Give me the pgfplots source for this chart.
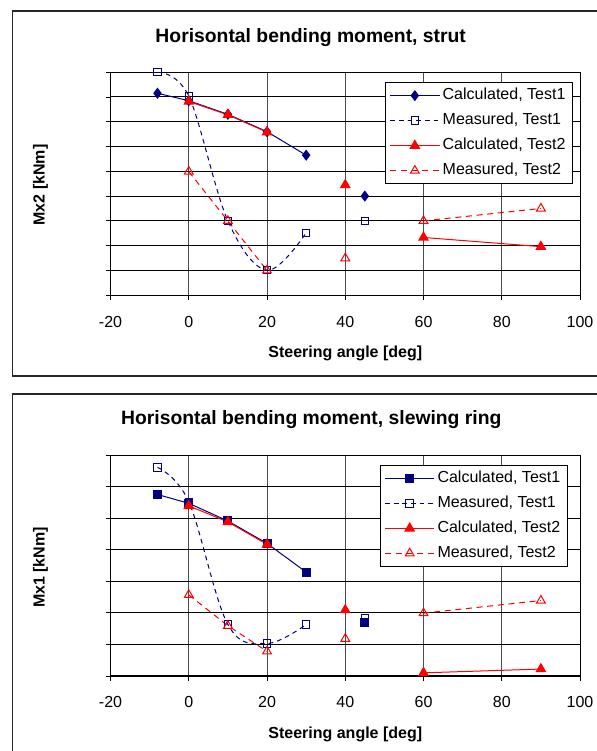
\documentclass[border=0pt]{standalone}
\usepackage{pgfplots}
\pgfplotsset{compat=1.18}
\usepackage{fontspec}
\setmainfont{Liberation Sans}
\definecolor{navy}{RGB}{0,0,128}
\definecolor{myred}{RGB}{255,0,0}

\pgfplotsset{
 mystyle/.style={
  scale only axis, width=352.1pt,
  xmin=-20, xmax=100, xtick={-20,0,20,40,60,80,100},
  ymin=0, yticklabels={},
  xtick pos=left, ytick pos=left, tick align=outside, major tick length=3.5pt,
  tick style={black, line width=0.6pt},
  axis line style={black, line width=0.75pt},
  xmajorgrids, ymajorgrids,
  x grid style={black!70, line width=0.7pt},
  y grid style={black, line width=0.75pt},
  /pgf/number format/assume math mode=true,
  ticklabel style={font=\fontsize{12}{14}\selectfont},
  xticklabel style={yshift=-8.5pt},
  legend cell align=left,
  legend style={draw=black, line width=0.6pt, font=\fontsize{12}{14}\selectfont,
    row sep=3.25pt, inner xsep=3pt, inner ysep=2pt,
    nodes={inner sep=2pt, text height=9pt, text depth=2.5pt}},
  legend image code/.code={\draw[mark repeat=2,mark phase=2,##1] plot coordinates {(0pt,0pt) (18.5pt,0pt) (37pt,0pt)};},
 },
 calcA/.style={navy, line width=0.75pt, mark=diamond*, mark size=3.6pt, mark options={solid, fill=navy}},
 calcAs/.style={navy, line width=0.75pt, mark=square*, mark size=3pt, mark options={solid, fill=navy}},
 measA/.style={navy, line width=0.75pt, dash pattern=on 3.5pt off 3pt, mark=square, mark size=2.8pt, mark options={solid}},
 calcB/.style={myred, line width=0.75pt, mark=triangle*, mark size=4pt, mark options={solid, fill=myred}},
 measB/.style={myred, line width=0.75pt, dash pattern=on 4.5pt off 3.5pt, mark=triangle, mark size=3.8pt, mark options={solid}},
}

\begin{document}
\begin{tikzpicture}
\useasboundingbox (0,0) rectangle (447.75pt,563.25pt);
\clip (0,0) rectangle (447.75pt,563.25pt);

% ---------- frames and texts (pixel coordinates, y downward) ----------
\begin{scope}[x=0.75pt, y=-0.75pt, shift={(0pt,563.25pt)}]
 \draw[black!85, line width=1pt] (600,11) -- (12.6,11) -- (12.6,376) -- (600,376);
 \draw[black!85, line width=1pt] (600,394) -- (12.6,394) -- (12.6,760);
 \node[anchor=base, font=\bfseries\fontsize{14.5}{17}\selectfont, inner sep=0pt] at (310.7,42.7) {Horisontal bending moment, strut};
 \node[anchor=base, font=\bfseries\fontsize{14.5}{17}\selectfont, inner sep=0pt] at (311.3,425) {Horisontal bending moment, slewing ring};
 \node[anchor=base, font=\bfseries\fontsize{12}{14}\selectfont, inner sep=0pt] at (345.3,357.3) {Steering angle [deg]};
 \node[anchor=base, font=\bfseries\fontsize{12}{14}\selectfont, inner sep=0pt] at (345.3,738.3) {Steering angle [deg]};
 \node[anchor=base, rotate=90, font=\bfseries\fontsize{12}{14}\selectfont, inner sep=0pt] at (44.5,185) {Mx2 [kNm]};
 \node[anchor=base, rotate=90, font=\bfseries\fontsize{12}{14}\selectfont, inner sep=0pt] at (44.5,567.5) {Mx1 [kNm]};
\end{scope}

% ---------- top chart ----------
\begin{axis}[mystyle, at={(82.9pt,341.85pt)}, anchor=south west,
  height=167.25pt, ymax=9, ytick={0,1,...,9},
  legend style={at={(0.984,0.955)}, anchor=north east}]
 \addplot[calcA] coordinates {(-8,8.15) (0,7.85) (10,7.3) (20,6.6) (30,5.65)};
 \addlegendentry{Calculated, Test1}
 \addplot[measA, smooth, tension=0.6] coordinates {(-8,9.0) (0,8.03) (10,3.0) (20,1.01) (30,2.52)};
 \addlegendentry{Measured, Test1}
 \addplot[calcB] coordinates {(0,7.82) (10,7.28) (20,6.58)};
 \addlegendentry{Calculated, Test2}
 \addplot[measB] coordinates {(0,4.99) (10,3.0) (20,1.0)};
 \addlegendentry{Measured, Test2}
 \addplot[calcA, forget plot] coordinates {(45,4.0)};
 \addplot[measA, forget plot] coordinates {(45,3.0)};
 \addplot[calcB, forget plot] coordinates {(40,4.45)};
 \addplot[calcB, forget plot] coordinates {(60,2.33) (90,1.96)};
 \addplot[measB, forget plot] coordinates {(40,1.49)};
 \addplot[measB, forget plot] coordinates {(60,3.0) (90,3.5)};
\end{axis}

% ---------- bottom chart ----------
\begin{axis}[mystyle, at={(82.9pt,56.25pt)}, anchor=south west,
  height=165.75pt, ymax=7, ytick={0,1,...,7},
  legend style={at={(0.973,0.955)}, anchor=north east}]
 \draw[black, line width=1.6pt] (rel axis cs:0,0) -- (rel axis cs:1,0);
 \addplot[calcAs] coordinates {(-8,5.75) (0,5.47) (10,4.91) (20,4.20) (30,3.29)};
 \addlegendentry{Calculated, Test1}
 \addplot[measA, smooth, tension=0.6] coordinates {(-8,6.61) (0,5.52) (10,1.63) (20,1.03) (30,1.63)};
 \addlegendentry{Measured, Test1}
 \addplot[calcB] coordinates {(0,5.39) (10,4.88) (20,4.17)};
 \addlegendentry{Calculated, Test2}
 \addplot[measB] coordinates {(0,2.57) (10,1.59) (20,0.78)};
 \addlegendentry{Measured, Test2}
 \addplot[calcAs, forget plot] coordinates {(45,1.69)};
 \addplot[measA, forget plot] coordinates {(45,1.83)};
 \addplot[calcB, forget plot] coordinates {(40,2.09)};
 \addplot[calcB, forget plot] coordinates {(60,0.10) (90,0.22)};
 \addplot[measB, forget plot] coordinates {(40,1.18)};
 \addplot[measB, forget plot] coordinates {(60,1.99) (90,2.39)};
\end{axis}
\end{tikzpicture}
\end{document}
